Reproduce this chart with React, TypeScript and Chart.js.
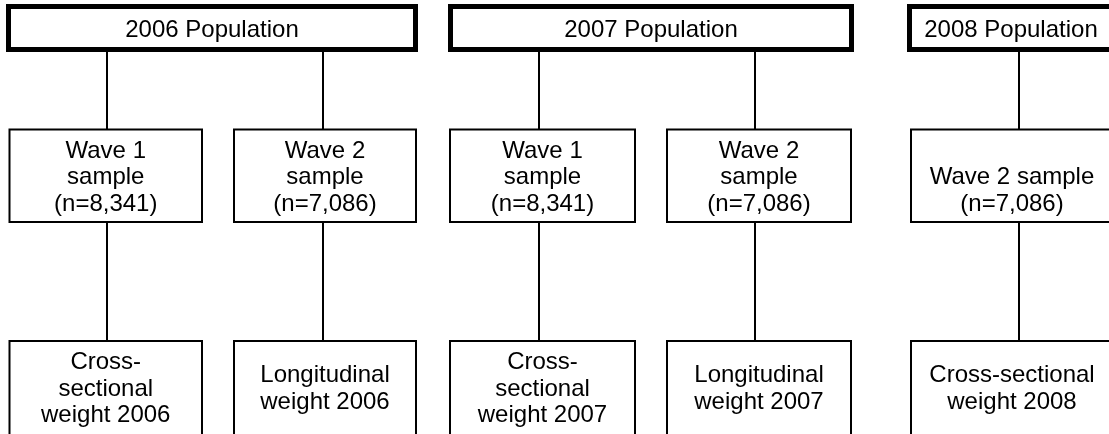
import React, { useEffect, useRef } from "react";
import { Chart, registerables } from "chart.js";

Chart.register(...registerables);

// ---- content ----
const populationLabels: string[] = ["2006 Population", "2007 Population", "2008 Population"];
const sampleLabels: string[][] = [
  ["Wave 1", "sample", "(n=8,341)"],
  ["Wave 2", "sample", "(n=7,086)"],
  ["Wave 1", "sample", "(n=8,341)"],
  ["Wave 2", "sample", "(n=7,086)"],
  ["", "Wave 2 sample", "(n=7,086)"],
];
const weightLabels: string[][] = [
  ["Cross-", "sectional", "weight 2006"],
  ["Longitudinal", "weight 2006"],
  ["Cross-", "sectional", "weight 2007"],
  ["Longitudinal", "weight 2007"],
  ["Cross-sectional", "weight 2008"],
];
const columnGroup: number[] = [0, 0, 1, 1, 2];

// ---- layout (diagram units on the hidden scales) ----
const W = 1109;
const H = 434;
const popX: number[][] = [[8.5, 415.5], [450.5, 851.5], [909.5, 1112.5]];
const popY: number[] = [6.5, 49.5];
const colX: number[][] = [[9.5, 202], [234, 416], [450, 635], [667, 851], [911, 1113]];
const connectorX: number[] = [107, 323, 539, 755, 1019];
const sampleY: number[] = [129.5, 222];
const weightY: number[] = [341, 440];
const popTextY = 28;
const sampleTextY = 175.5;
const weightTextY = 387;
const FONT_SIZE = 24;
const LINE_H = 26.5;

function rectPath(x0: number, x1: number, y0: number, y1: number) {
  const m = (x0 + x1) / 2;
  return [
    { x: m, y: y0 },
    { x: x1, y: y0 },
    { x: x1, y: y1 },
    { x: x0, y: y1 },
    { x: x0, y: y0 },
    { x: m, y: y0 },
  ];
}

function lineDs(data: any[], width: number) {
  return {
    data,
    showLine: true,
    pointRadius: 0,
    pointHoverRadius: 0,
    borderColor: "#000000",
    borderWidth: width,
    borderJoinStyle: "miter",
    borderCapStyle: "butt",
    fill: false,
    tension: 0,
  };
}

const textPlugin = {
  id: "boxText",
  afterDatasetsDraw(chart: any) {
    const ctx = chart.ctx;
    const xs = chart.scales.x;
    const ys = chart.scales.y;
    ctx.save();
    ctx.fillStyle = "#000000";
    ctx.font = `${FONT_SIZE}px "Liberation Sans", Arial, sans-serif`;
    ctx.textAlign = "center";
    ctx.textBaseline = "alphabetic";
    const cap = FONT_SIZE * 0.716;
    const drawLines = (lines: string[], cxVal: number, cyVal: number) => {
      const cx = xs.getPixelForValue(cxVal);
      const cy = ys.getPixelForValue(cyVal);
      const n = lines.length;
      lines.forEach((t, i) => {
        if (!t) return;
        const by = cy + (i - (n - 1) / 2) * LINE_H + cap / 2;
        ctx.fillText(t, cx, by);
      });
    };
    populationLabels.forEach((lab, g) => {
      drawLines([lab], (popX[g][0] + popX[g][1]) / 2, popTextY);
    });
    sampleLabels.forEach((lines, i) => {
      drawLines(lines, (colX[i][0] + colX[i][1]) / 2, sampleTextY);
    });
    weightLabels.forEach((lines, i) => {
      drawLines(lines, (colX[i][0] + colX[i][1]) / 2, weightTextY);
    });
    ctx.restore();
  },
};

export default function App() {
  const ref = useRef<HTMLCanvasElement | null>(null);

  useEffect(() => {
    if (!ref.current) return;
    const datasets: any[] = [];
    populationLabels.forEach((_, g) => {
      datasets.push(lineDs(rectPath(popX[g][0], popX[g][1], popY[0], popY[1]), 5));
    });
    sampleLabels.forEach((_, i) => {
      datasets.push(lineDs(rectPath(colX[i][0], colX[i][1], sampleY[0], sampleY[1]), 2));
      datasets.push(lineDs(rectPath(colX[i][0], colX[i][1], weightY[0], weightY[1]), 2));
      // connectors: population -> sample, sample -> weight
      void columnGroup[i];
      datasets.push(
        lineDs(
          [
            { x: connectorX[i], y: popY[1] + 2.5 },
            { x: connectorX[i], y: sampleY[0] },
          ],
          2
        )
      );
      datasets.push(
        lineDs(
          [
            { x: connectorX[i], y: sampleY[1] },
            { x: connectorX[i], y: weightY[0] },
          ],
          2
        )
      );
    });

    const chart = new Chart(ref.current, {
      type: "scatter",
      data: { datasets },
      options: {
        responsive: false,
        animation: false,
        events: [],
        layout: { padding: 0 },
        plugins: {
          legend: { display: false },
          tooltip: { enabled: false },
        },
        scales: {
          x: { type: "linear", min: 0, max: W, display: false },
          y: { type: "linear", min: 0, max: H, reverse: true, display: false },
        },
      } as any,
      plugins: [textPlugin],
    });
    return () => chart.destroy();
  }, []);

  return (
    <div
      style={{
        position: "fixed",
        left: 0,
        top: 0,
        width: W,
        height: H,
        background: "#ffffff",
      }}
    >
      <canvas ref={ref} width={W} height={H} style={{ width: W, height: H, display: "block" }} />
    </div>
  );
}
